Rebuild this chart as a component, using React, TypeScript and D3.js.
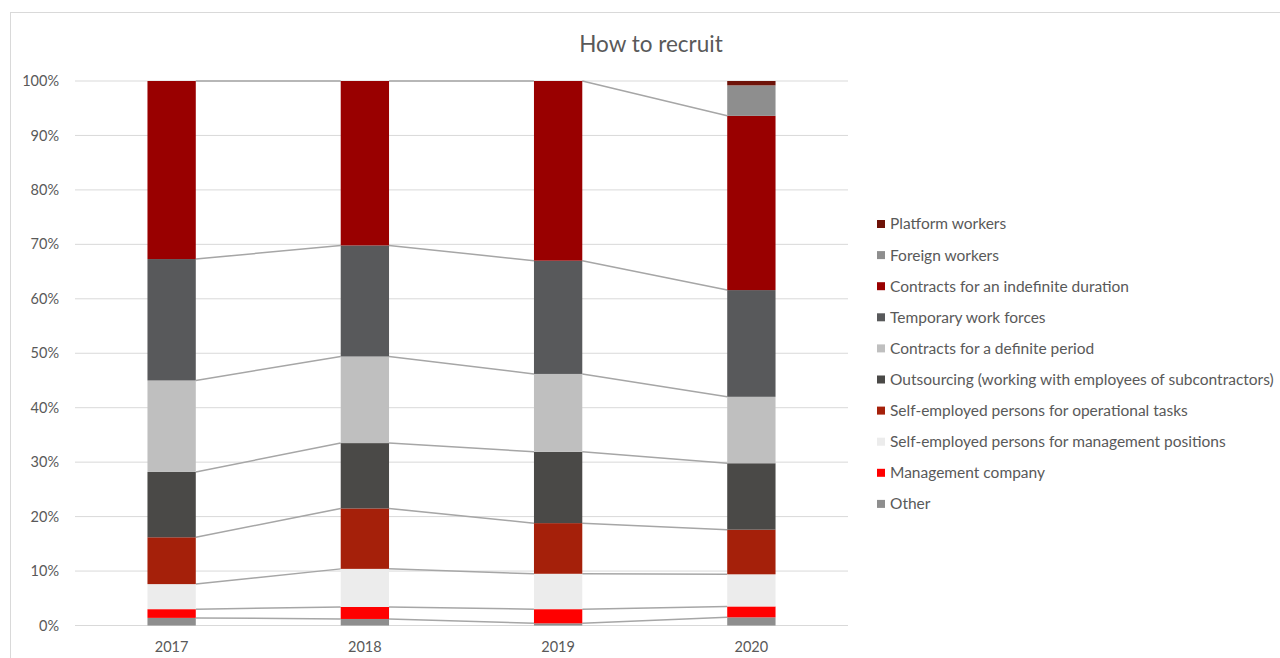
import React from "react";
import * as d3 from "d3";

// Survey years on the x axis
const years = ["2017", "2018", "2019", "2020"];

// Share of each recruitment channel per year (percent), bottom of the stack first
const other = [1.4, 1.2, 0.4, 1.5];
const managementCompany = [1.6, 2.2, 2.6, 2.0];
const selfEmployedManagement = [4.6, 7.0, 6.5, 5.9];
const selfEmployedOperational = [8.6, 11.1, 9.3, 8.2];
const outsourcing = [12.0, 12.0, 13.1, 12.2];
const definitePeriod = [16.8, 15.9, 14.3, 12.2];
const temporaryWork = [22.3, 20.4, 20.8, 19.6];
const indefiniteDuration = [32.7, 30.2, 33.0, 32.0];
const foreignWorkers = [0, 0, 0, 5.6];
const platformWorkers = [0, 0, 0, 0.8];

const yTicks = [0, 10, 20, 30, 40, 50, 60, 70, 80, 90, 100];

type Series = { name: string; color: string; values: number[] };

const series: Series[] = [
  { name: "Other", color: "#8e8e8e", values: other },
  { name: "Management company", color: "#ff0000", values: managementCompany },
  { name: "Self-employed persons for management positions", color: "#ececec", values: selfEmployedManagement },
  { name: "Self-employed persons for operational tasks", color: "#a5200a", values: selfEmployedOperational },
  { name: "Outsourcing (working with employees of subcontractors)", color: "#4a4947", values: outsourcing },
  { name: "Contracts for a definite period", color: "#bfbfbf", values: definitePeriod },
  { name: "Temporary work forces", color: "#58595b", values: temporaryWork },
  { name: "Contracts for an indefinite duration", color: "#990000", values: indefiniteDuration },
  { name: "Foreign workers", color: "#8e8e8e", values: foreignWorkers },
  { name: "Platform workers", color: "#6e1208", values: platformWorkers },
];

const W = 1280;
const H = 658;
const plot = { left: 75, right: 848, top: 81, bottom: 625.5 };
const FONT = "Lato, 'Open Sans', sans-serif";
const TEXT = "#595959";

export default function App() {
  const x = d3
    .scaleBand<string>()
    .domain(years)
    .range([plot.left, plot.right])
    .paddingInner(0.75)
    .paddingOuter(0.375);
  const y = d3.scaleLinear().domain([0, 100]).range([plot.bottom, plot.top]);

  const rows = years.map((yr, i) => {
    const r: Record<string, number | string> = { year: yr };
    series.forEach((s) => (r[s.name] = s.values[i]));
    return r;
  });
  const stacked = d3
    .stack<Record<string, number | string>>()
    .keys(series.map((s) => s.name))
    .value((d, k) => d[k] as number)(rows);

  const bw = x.bandwidth();
  const legendX = 877;
  const legendTop = 224;
  const legendStep = 31.1;
  const legendOrder = [...series].reverse();

  return (
    <svg
      width={W}
      height={H}
      style={{ position: "absolute", left: 0, top: 0, background: "#fff" }}
      fontFamily={FONT}
    >
      <rect x={10.5} y={12.5} width={1400} height={800} fill="#fff" stroke="#d9d9d9" strokeWidth={1} />

      <text x={651} y={52} textAnchor="middle" fontSize={22.5} fill={TEXT}>
        How to recruit
      </text>

      {/* gridlines and y tick labels */}
      {yTicks.map((t) => (
        <g key={t}>
          <line x1={plot.left} x2={plot.right} y1={y(t)} y2={y(t)} stroke="#d9d9d9" strokeWidth={1} />
          <text x={59} y={y(t)} dy="0.35em" textAnchor="end" fontSize={14.5} fill={TEXT}>
            {t}%
          </text>
        </g>
      ))}

      {/* series lines joining segment tops of neighbouring columns (only where both columns hold the series) */}
      {stacked.map((layer, si) =>
        layer.slice(0, -1).map((d, i) => {
          const next = layer[i + 1];
          const s = series[si];
          if (!(s.values[i] > 0 && s.values[i + 1] > 0)) return null;
          return (
            <line
              key={`sl-${si}-${i}`}
              x1={(x(years[i]) as number) + bw}
              x2={x(years[i + 1]) as number}
              y1={y(d[1])}
              y2={y(next[1])}
              stroke="#a6a6a6"
              strokeWidth={1.5}
            />
          );
        })
      )}

      {/* stacked columns */}
      {stacked.map((layer, si) =>
        layer.map((d, i) =>
          d[1] - d[0] > 0 ? (
            <rect
              key={`b-${si}-${i}`}
              x={x(years[i])}
              y={y(d[1])}
              width={bw}
              height={y(d[0]) - y(d[1])}
              fill={series[si].color}
            />
          ) : null
        )
      )}

      {/* category labels */}
      {years.map((yr) => (
        <text
          key={yr}
          x={(x(yr) as number) + bw / 2}
          y={652}
          textAnchor="middle"
          fontSize={14.5}
          fill={TEXT}
        >
          {yr}
        </text>
      ))}

      {/* legend */}
      {legendOrder.map((s, i) => {
        const cy = legendTop + i * legendStep;
        return (
          <g key={s.name}>
            <rect x={legendX} y={cy - 4} width={8} height={8} fill={s.color} />
            <text x={890} y={cy} dy="0.35em" fontSize={15.5} fill={TEXT}>
              {s.name}
            </text>
          </g>
        );
      })}
    </svg>
  );
}
